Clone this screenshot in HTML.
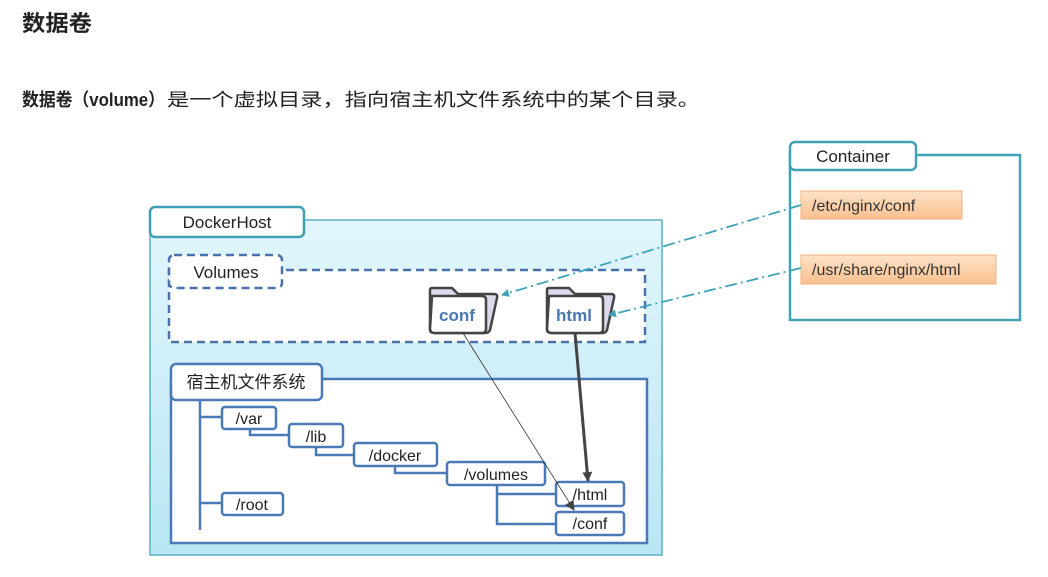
<!DOCTYPE html>
<html><head><meta charset="utf-8"><style>
html,body{margin:0;padding:0;background:#fff;width:1048px;height:577px;overflow:hidden}
svg text{font-family:"Liberation Sans","Noto Sans CJK SC",sans-serif}
</style></head><body>
<svg width="1048" height="577" viewBox="0 0 1048 577" xmlns="http://www.w3.org/2000/svg">
<defs>
<linearGradient id="bg" x1="0" y1="0" x2="0" y2="1"><stop offset="0" stop-color="#e2f6fc"/><stop offset="1" stop-color="#b9e6f4"/></linearGradient>
<linearGradient id="or" x1="0" y1="0" x2="0" y2="1"><stop offset="0" stop-color="#fde2c8"/><stop offset="1" stop-color="#f9c08e"/></linearGradient>
<marker id="ah" markerWidth="8" markerHeight="8" refX="7" refY="4" orient="auto" markerUnits="userSpaceOnUse"><path d="M0,0 L8,4 L0,8 Z" fill="#3fa3b8"/></marker>
<marker id="ak" markerWidth="10" markerHeight="10" refX="9" refY="5" orient="auto" markerUnits="userSpaceOnUse"><path d="M0,0 L10,5 L0,10 Z" fill="#444"/></marker>
</defs>
<text x="22" y="31" font-size="22" font-weight="bold" fill="#222" textLength="70" lengthAdjust="spacingAndGlyphs">数据卷</text>
<text x="22" y="106" font-size="18" font-weight="bold" fill="#222" textLength="143" lengthAdjust="spacingAndGlyphs">数据卷（volume）</text>
<text x="167" y="106" font-size="18" fill="#222" textLength="533" lengthAdjust="spacingAndGlyphs">是一个虚拟目录，指向宿主机文件系统中的某个目录。</text>

<!-- DockerHost -->
<rect x="150" y="220" width="512" height="335" fill="url(#bg)" stroke="#5ab0c2" stroke-width="1.5"/>
<rect x="150" y="207" width="154" height="30" rx="5" fill="#fff" stroke="#3f9fb2" stroke-width="2.5"/>
<text x="227" y="228" font-size="17" text-anchor="middle" fill="#222">DockerHost</text>

<!-- Volumes -->
<rect x="169" y="270" width="476" height="72" fill="#fff" stroke="#4a72a8" stroke-width="2.5" stroke-dasharray="8,5"/>
<rect x="169" y="255" width="113" height="33" rx="5" fill="#fff" stroke="#4a72a8" stroke-width="2.5" stroke-dasharray="8,5"/>
<rect x="172" y="268" width="108" height="18" fill="#fff"/>
<text x="226" y="278" font-size="17" text-anchor="middle" fill="#222">Volumes</text>

<!-- folders -->
<g stroke="#444" stroke-width="2.5" stroke-linejoin="round">
<path d="M432,288 L452,288 L458,294 L494,294 Q498,294 497,298 L490,330 Q489,333 485,333 L435,333 Q430,333 430,329 L430,290 Q430,288 432,288 Z" fill="#dcd9ea"/>
<path d="M432,296 L482,296 Q486,296 486,300 L486,329 Q486,333 482,333 L435,333 Q430,333 430,329 Z" fill="#fff"/>
<path d="M549,288 L569,288 L575,294 L611,294 Q615,294 614,298 L607,330 Q606,333 602,333 L552,333 Q547,333 547,329 L547,290 Q547,288 549,288 Z" fill="#dcd9ea"/>
<path d="M549,296 L599,296 Q603,296 603,300 L603,329 Q603,333 599,333 L552,333 Q547,333 547,329 Z" fill="#fff"/>
</g>
<text x="457" y="321" font-size="17" font-weight="bold" text-anchor="middle" fill="#4a78b5">conf</text>
<text x="574" y="321" font-size="17" font-weight="bold" text-anchor="middle" fill="#4a78b5">html</text>

<!-- Host FS -->
<rect x="171" y="379" width="476" height="164" fill="#fff" stroke="#4a7ab5" stroke-width="2.5"/>
<rect x="171" y="364" width="151" height="36" rx="5" fill="#fff" stroke="#4a7ab5" stroke-width="2.5"/>
<text x="246" y="388" font-size="17" text-anchor="middle" fill="#222">宿主机文件系统</text>
<g stroke="#4a7ab5" stroke-width="2.5" fill="none">
<path d="M200,400 V530 M200,417 H222 M200,503 H222"/>
<path d="M250,429 V435 H289 M316,447 V455 H354 M395,466 V473 H447 M497,485 V524 H556 M497,494 H556"/>
</g>
<g stroke="#4a7ab5" stroke-width="2.5" fill="#fff">
<rect x="222" y="407" width="54" height="22" rx="3"/>
<rect x="289" y="424" width="54" height="23" rx="3"/>
<rect x="354" y="443" width="83" height="23" rx="3"/>
<rect x="447" y="462" width="98" height="23" rx="3"/>
<rect x="556" y="482" width="68" height="24" rx="3"/>
<rect x="556" y="512" width="68" height="23" rx="3"/>
<rect x="222" y="493" width="61" height="22" rx="3"/>
</g>
<g font-size="16" fill="#222" text-anchor="middle">
<text x="249" y="424">/var</text>
<text x="316" y="442">/lib</text>
<text x="395" y="461">/docker</text>
<text x="496" y="480">/volumes</text>
<text x="590" y="500">/html</text>
<text x="590" y="529">/conf</text>
<text x="252" y="510">/root</text>
</g>
<!-- black arrows -->
<line x1="463" y1="333" x2="574" y2="510" stroke="#333" stroke-width="0.8" marker-end="url(#ak)"/>
<line x1="575" y1="333" x2="588" y2="481" stroke="#444" stroke-width="3" marker-end="url(#ak)"/>

<!-- Container -->
<rect x="790" y="155" width="230" height="165" fill="#fff" stroke="#3fa3b5" stroke-width="2.5"/>
<rect x="790" y="142" width="126" height="28" rx="5" fill="#fff" stroke="#3fa3b5" stroke-width="2.5"/>
<text x="853" y="162" font-size="17" text-anchor="middle" fill="#222">Container</text>
<rect x="801" y="191" width="161" height="28" fill="url(#or)" stroke="#f0b080" stroke-width="1"/>
<text x="812" y="211" font-size="16" fill="#333">/etc/nginx/conf</text>
<rect x="801" y="255" width="195" height="29" fill="url(#or)" stroke="#f0b080" stroke-width="1"/>
<text x="812" y="275" font-size="16" fill="#333">/usr/share/nginx/html</text>

<!-- dash-dot arrows -->
<g stroke="#3fa3b8" stroke-width="1.8" fill="none" stroke-dasharray="12,4,2,4">
<line x1="801" y1="205" x2="502" y2="295" marker-end="url(#ah)"/>
<line x1="801" y1="268" x2="609" y2="315" marker-end="url(#ah)"/>
</g>
</svg>
</body></html>
